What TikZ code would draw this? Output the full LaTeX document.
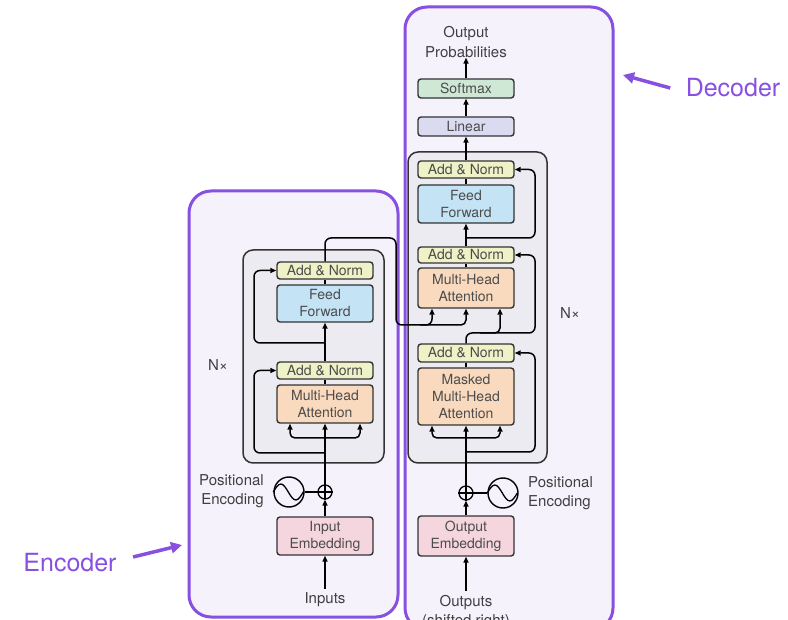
\documentclass[tikz,border=0pt]{standalone}
\usepackage{fontspec}
\setmainfont{TeX Gyre Heros}
\usepackage{tikz}
\usetikzlibrary{calc}
\usetikzlibrary{arrows.meta}
\usetikzlibrary{positioning}
\definecolor{purp}{RGB}{135,80,225}
\definecolor{purpfill}{RGB}{245,242,252}
\definecolor{grayfill}{RGB}{235,235,241}
\definecolor{addcol}{RGB}{238,242,198}
\definecolor{ffcol}{RGB}{196,227,245}
\definecolor{mhacol}{RGB}{250,218,190}
\definecolor{embcol}{RGB}{245,214,222}
\definecolor{smcol}{RGB}{207,232,214}
\definecolor{lincol}{RGB}{218,218,240}
\tikzset{blk/.style={draw=black!80, line width=1.4pt, rounded corners=3pt, minimum width=96pt, inner sep=0pt, align=center, text=black!70, font=\fontsize{14}{17}\selectfont}}
\tikzset{lbl/.style={align=center, text=black!75, font=\fontsize{15}{19.5}\selectfont, inner sep=0pt}}

\begin{document}
\begin{tikzpicture}[x=1pt, y=-1pt]
\tikzstyle{myedgestyle} = [-{Triangle[length=6pt,width=5pt]}, line width=1.5pt]
\tikzstyle{mylinestyle} = [line width=1.5pt]
\useasboundingbox (0,0) rectangle (788,620);
% frames
\draw[purp, fill=purpfill, line width=3pt, rounded corners=22pt] (189,191) rectangle (398,617);
\draw[purp, fill=purpfill, line width=3pt, rounded corners=22pt] (405,7) rectangle (613,630);
\draw[draw=black!80, fill=grayfill, line width=1.5pt, rounded corners=10pt] (243,250) rectangle (384,463);
\draw[draw=black!80, fill=grayfill, line width=1.5pt, rounded corners=10pt] (408,152) rectangle (547,463);

% encoder
\node[blk, fill=embcol, minimum height=38pt](encemb) at (325,536){Input\\Embedding};
\node[blk, fill=mhacol, minimum height=38pt](encmha) at (325,404){Multi-Head\\Attention};
\node[blk, fill=addcol, minimum height=17pt](encan1) at (325,370.5){Add \& Norm};
\node[blk, fill=ffcol, minimum height=37pt](encff) at (325,303.5){Feed\\Forward};
\node[blk, fill=addcol, minimum height=17pt](encan2) at (325,270.5){Add \& Norm};
\node[lbl](inputs) at (325,600){Inputs};
\node[draw, circle, line width=1.3pt, minimum size=14pt, inner sep=0pt](encplus) at (325,492){};
\draw[line width=1.2pt] (encplus.north) -- (encplus.south) (encplus.west) -- (encplus.east);
\node[draw, circle, line width=1.4pt, minimum size=30pt, inner sep=0pt](encpe) at (289,492){};
\draw[line width=1.3pt] (encpe.west) sin ++(7.5,-8) cos ++(7.5,8) sin ++(7.5,8) cos ++(7.5,-8);
\node[lbl, anchor=east, align=right](encpetext) at (264,491){Positional\\Encoding};
\node[lbl](encnx) at (218,365){N×};

\draw[myedgestyle, shorten <=4pt] (inputs.north) -- (encemb.south);
\draw[myedgestyle] (encemb) -- (encplus);
\draw[mylinestyle] (encpe) -- (encplus);
\draw[myedgestyle] (encplus) -- (encmha);
\coordinate (encsplit) at (325,438);
\draw[myedgestyle, rounded corners=5pt] (encsplit) -| ([xshift=-35pt]encmha.south);
\draw[myedgestyle, rounded corners=5pt] (encsplit) -| ([xshift=35pt]encmha.south);
\coordinate (encres1) at (325,453);
\draw[myedgestyle, rounded corners=6pt] (encres1) -- (254,453) |- (encan1.west);
\draw[mylinestyle] (encmha) -- (encan1);
\draw[myedgestyle] (encan1) -- (encff);
\coordinate (encres2) at (325,343);
\draw[myedgestyle, rounded corners=6pt] (encres2) -- (254,343) |- (encan2.west);
\draw[mylinestyle] (encff) -- (encan2);

% decoder
\node[lbl](outprob) at (466,42){Output\\Probabilities};
\node[blk, fill=smcol, minimum height=19pt](decsm) at (466,88.5){Softmax};
\node[blk, fill=lincol, minimum height=19pt](declin) at (466,126.5){Linear};
\node[blk, fill=addcol, minimum height=17pt](decan3) at (466,169.5){Add \& Norm};
\node[blk, fill=ffcol, minimum height=38pt](decff) at (466,204){Feed\\Forward};
\node[blk, fill=addcol, minimum height=16pt](decan2) at (466,255){Add \& Norm};
\node[blk, fill=mhacol, minimum height=40pt](decmha) at (466,288){Multi-Head\\Attention};
\node[blk, fill=addcol, minimum height=18pt](decan1) at (466,353){Add \& Norm};
\node[blk, fill=mhacol, minimum height=57pt](decmmha) at (466,396.5){Masked\\Multi-Head\\Attention};
\node[blk, fill=embcol, minimum height=40pt](decemb) at (466,536){Output\\Embedding};
\node[lbl](outputs) at (466,612){Outputs\\(shifted right)};
\node[draw, circle, line width=1.3pt, minimum size=14pt, inner sep=0pt](decplus) at (466,493){};
\draw[line width=1.2pt] (decplus.north) -- (decplus.south) (decplus.west) -- (decplus.east);
\node[draw, circle, line width=1.4pt, minimum size=30pt, inner sep=0pt](decpe) at (503,493){};
\draw[line width=1.3pt] (decpe.west) sin ++(7.5,-8) cos ++(7.5,8) sin ++(7.5,8) cos ++(7.5,-8);
\node[lbl, anchor=west, align=left](decpetext) at (528,493){Positional\\Encoding};
\node[lbl](decnx) at (570,313){N×};

\draw[myedgestyle, shorten <=4pt] (outputs.north) -- (decemb.south);
\draw[myedgestyle] (decemb) -- (decplus);
\draw[mylinestyle] (decplus) -- (decpe);
\draw[myedgestyle] (decplus) -- (decmmha);
\coordinate (decsplit) at (466,438);
\draw[myedgestyle, rounded corners=5pt] (decsplit) -| ([xshift=-34pt]decmmha.south);
\draw[myedgestyle, rounded corners=5pt] (decsplit) -| ([xshift=34pt]decmmha.south);
\coordinate (decres1) at (466,452);
\draw[myedgestyle, rounded corners=6pt] (decres1) -- (535,452) |- (decan1.east);
\draw[mylinestyle] (decmmha) -- (decan1);
\draw[myedgestyle, rounded corners=6pt] (decan1.north) |- (535,333) |- (decan2.east);
\draw[myedgestyle, rounded corners=5pt] (480,333) -| ([xshift=34pt]decmha.south);
\draw[mylinestyle] (decmha) -- (decan2);
\draw[myedgestyle] (decan2) -- (decff);
\coordinate (decres2) at (466,238);
\draw[myedgestyle, rounded corners=6pt] (decres2) -- (535,238) |- (decan3.east);
\draw[mylinestyle] (decff) -- (decan3);
\draw[myedgestyle] (decan3) -- (declin);
\draw[myedgestyle] (declin) -- (decsm);
\draw[myedgestyle] (decsm) -- (outprob);

% encoder output into decoder
\coordinate (crossing) at (420,325);
\draw[myedgestyle, rounded corners=6pt] (encan2.north) |- (396,238) |- (crossing) -| ([xshift=-34pt]decmha.south);
\draw[myedgestyle, rounded corners=5pt] (crossing) -| (decmha.south);

% labels
\node[text=purp, font=\fontsize{25}{29}\selectfont](enclabel) at (70,563){Encoder};
\coordinate (enctip) at (182,545);
\draw[purp, line width=3.5pt, -{Triangle[length=11pt,width=11pt]}] ([xshift=13pt,yshift=6pt]enclabel.east) -- (enctip);
\node[text=purp, font=\fontsize{25}{29}\selectfont](declabel) at (733,88){Decoder};
\coordinate (dectip) at (623,75);
\draw[purp, line width=3.5pt, -{Triangle[length=11pt,width=11pt]}] ([xshift=-12pt]declabel.west) -- (dectip);
\end{tikzpicture}
\end{document}
